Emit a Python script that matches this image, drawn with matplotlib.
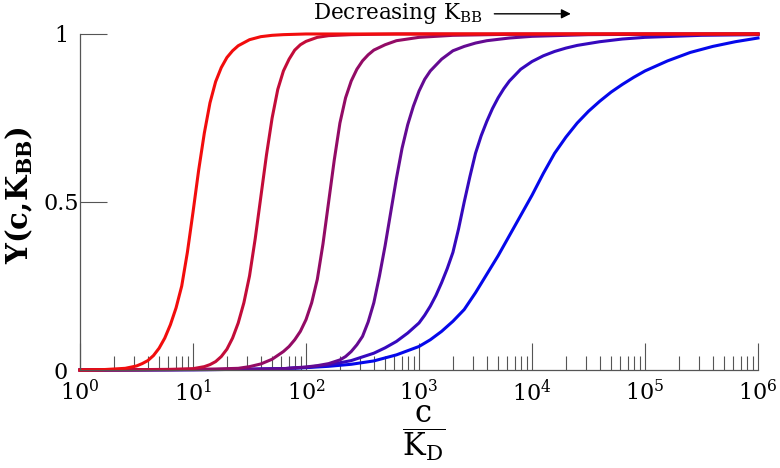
import numpy as np
import matplotlib.pyplot as plt
from matplotlib.ticker import FixedLocator, NullLocator, NullFormatter, LogFormatterSciNotation

plt.rcParams['font.family'] = ['DejaVu Serif']
plt.rcParams['mathtext.fontset'] = 'dejavuserif'

# curves: log10(c/K_D) and Y, from largest K_BB (red) to smallest (blue)
red_logc = [0, 0.2, 0.3, 0.4, 0.5, 0.55, 0.6, 0.65, 0.7, 0.75, 0.8, 0.85, 0.9, 0.95, 1.0, 1.05,
            1.1, 1.15, 1.2, 1.25, 1.3, 1.35, 1.4, 1.5, 1.6, 1.7, 1.8, 2.0, 6.0]
red_y = [0, 0.001, 0.003, 0.005, 0.012, 0.019, 0.028, 0.043, 0.065, 0.095, 0.135, 0.185, 0.25, 0.35, 0.47, 0.595,
         0.705, 0.795, 0.858, 0.9, 0.93, 0.95, 0.965, 0.983, 0.992, 0.996, 0.998, 1.0, 1.0]

crimson_logc = [0, 0.5, 0.8, 1.0, 1.1, 1.15, 1.2, 1.25, 1.3, 1.35, 1.4, 1.45, 1.5, 1.55, 1.6, 1.65,
                1.7, 1.75, 1.8, 1.85, 1.9, 1.95, 2.0, 2.1, 2.2, 2.4, 2.8, 6.0]
crimson_y = [0, 0.001, 0.002, 0.004, 0.01, 0.016, 0.025, 0.04, 0.062, 0.095, 0.14, 0.2, 0.28, 0.39, 0.515, 0.64,
             0.75, 0.835, 0.89, 0.925, 0.952, 0.968, 0.978, 0.99, 0.995, 0.998, 1.0, 1.0]

purple_logc = [0, 0.8, 1.2, 1.4, 1.5, 1.6, 1.7, 1.8, 1.85, 1.9, 1.95, 2.0, 2.05, 2.1, 2.15, 2.2, 2.25,
               2.3, 2.35, 2.4, 2.45, 2.5, 2.55, 2.6, 2.7, 2.8, 3.0, 3.3, 3.8, 6.0]
purple_y = [0, 0.001, 0.003, 0.005, 0.01, 0.018, 0.032, 0.055, 0.07, 0.09, 0.115, 0.15, 0.2, 0.27, 0.375, 0.5, 0.625,
            0.735, 0.81, 0.86, 0.895, 0.92, 0.938, 0.952, 0.968, 0.98, 0.99, 0.996, 0.999, 1.0]

violet_logc = [0, 1.0, 1.5, 1.8, 2.0, 2.1, 2.2, 2.3, 2.35, 2.4, 2.45, 2.5, 2.55, 2.6, 2.65, 2.7, 2.75, 2.8,
               2.85, 2.9, 2.95, 3.0, 3.05, 3.1, 3.2, 3.3, 3.4, 3.5, 3.6, 3.8, 4.0, 4.5, 5.0, 6.0]
violet_y = [0, 0.001, 0.002, 0.004, 0.009, 0.013, 0.019, 0.03, 0.04, 0.055, 0.075, 0.1, 0.143, 0.2, 0.28, 0.37, 0.47, 0.57,
            0.66, 0.73, 0.785, 0.83, 0.865, 0.89, 0.925, 0.95, 0.963, 0.973, 0.98, 0.988, 0.993, 0.998, 0.999, 1.0]

indigo_logc = [0, 1.0, 1.5, 1.8, 2.0, 2.2, 2.4, 2.6, 2.7, 2.8, 2.9, 3.0, 3.05, 3.1, 3.15, 3.2, 3.25, 3.3, 3.35,
               3.4, 3.45, 3.5, 3.55, 3.6, 3.65, 3.7, 3.75, 3.8, 3.9, 4.0, 4.1, 4.2, 4.3, 4.4, 4.6, 4.8, 5.0, 5.5, 6.0]
indigo_y = [0, 0.001, 0.002, 0.004, 0.008, 0.015, 0.028, 0.05, 0.066, 0.085, 0.11, 0.14, 0.163, 0.19, 0.222, 0.26, 0.302, 0.35, 0.42,
            0.5, 0.575, 0.645, 0.697, 0.74, 0.778, 0.81, 0.837, 0.86, 0.895, 0.918, 0.935, 0.948, 0.958, 0.966, 0.977, 0.985, 0.99, 0.996, 0.998]

blue_logc = [0, 1.0, 1.5, 1.8, 2.0, 2.2, 2.4, 2.6, 2.8, 3.0, 3.1, 3.2, 3.3, 3.4, 3.5, 3.6, 3.7, 3.8, 3.9,
             4.0, 4.1, 4.2, 4.3, 4.4, 4.5, 4.6, 4.7, 4.8, 4.9, 5.0, 5.2, 5.4, 5.6, 5.8, 6.0]
blue_y = [0, 0.001, 0.002, 0.004, 0.007, 0.011, 0.017, 0.027, 0.045, 0.07, 0.09, 0.115, 0.145, 0.18, 0.23, 0.285, 0.34, 0.4, 0.46,
          0.52, 0.585, 0.645, 0.693, 0.735, 0.77, 0.8, 0.827, 0.85, 0.871, 0.89, 0.92, 0.945, 0.963, 0.977, 0.988]

curves = [(red_logc, red_y), (crimson_logc, crimson_y), (purple_logc, purple_y),
          (violet_logc, violet_y), (indigo_logc, indigo_y), (blue_logc, blue_y)]

x_decades = [0, 1, 2, 3, 4, 5, 6]
y_ticks = [0, 0.5, 1]
y_ticklabels = ['0', '0.5', '1']

fig = plt.figure(figsize=(7.8, 4.68), dpi=100)
ax = fig.add_axes([0.1026, 0.2094, 0.8692, 0.718])

n = len(curves)
# blue first so the red one ends up on top
for i in reversed(range(n)):
    logc, y = curves[i]
    t = i / (n - 1)
    col = (0.95 * (1 - t) + 0.02 * t, 0.05 * (1 - t) + 0.03 * t, 0.05 * (1 - t) + 0.92 * t)
    ax.plot(10 ** np.array(logc), y, color=col, lw=2.2, solid_joinstyle='round', clip_on=False)

ax.set_xscale('log')
ax.set_xlim(1, 1e6)
ax.set_ylim(0, 1)

major_x = [10.0 ** d for d in x_decades]
minor_x = [m * 10.0 ** d for d in x_decades[:-1] for m in range(2, 10)]
ax.xaxis.set_major_locator(FixedLocator(major_x))
ax.xaxis.set_major_formatter(LogFormatterSciNotation())
ax.xaxis.set_minor_locator(FixedLocator(minor_x))
ax.xaxis.set_minor_formatter(NullFormatter())
ax.yaxis.set_major_locator(FixedLocator(y_ticks))
ax.yaxis.set_minor_locator(NullLocator())
ax.set_yticklabels(y_ticklabels)

for s in ['top', 'right']:
    ax.spines[s].set_visible(False)
for s in ['left', 'bottom']:
    ax.spines[s].set_color('#555555')
    ax.spines[s].set_linewidth(0.9)

ax.tick_params(axis='both', which='major', direction='in', length=19.5, width=0.8,
               color='#555555', labelsize=16, pad=7)
ax.tick_params(axis='x', which='minor', direction='in', length=10, width=0.8, color='#555555')
ax.tick_params(axis='y', pad=13.7)
for lbl in ax.get_yticklabels():
    lbl.set_ha('center')

ax.set_ylabel(r'$\mathbf{Y(c,\!K_{BB})}$', fontsize=21)
ax.yaxis.set_label_coords(-0.066, 0.52)
ax.set_xlabel(r'$\dfrac{\mathrm{c}}{\mathrm{K_D}}$', fontsize=22, va='center')
ax.xaxis.set_label_coords(0.506, -0.19)

ax.text(0.344, 1.062, r'Decreasing K$_{\mathrm{BB}}$', transform=ax.transAxes,
        fontsize=15.5, ha='left', va='center')
ax.annotate('', xy=(0.728, 1.06), xytext=(0.607, 1.06), xycoords='axes fraction',
            arrowprops=dict(arrowstyle='-|>', color='black', lw=1, mutation_scale=14))

fig.savefig('out.png', dpi=100)
